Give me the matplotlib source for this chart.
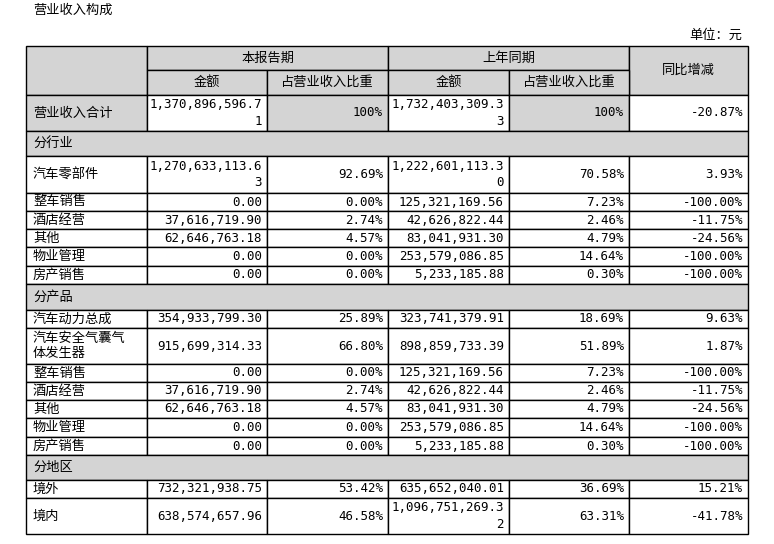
import matplotlib.pyplot as plt
from matplotlib.patches import Rectangle

plt.rcParams['font.family'] = ['Noto Sans CJK SC', 'DejaVu Sans']
MONO = ['DejaVu Sans Mono']

title = '营业收入构成'
unit = '单位：元'
header_top = ['本报告期', '上年同期', '同比增减']
header_sub = ['金额', '占营业收入比重', '金额', '占营业收入比重']

# (label, cur amount, cur pct, prev amount, prev pct, change); single item -> section row
rows = [
    ('营业收入合计', '1,370,896,596.71', '100%', '1,732,403,309.33', '100%', '-20.87%'),
    ('分行业',),
    ('汽车零部件', '1,270,633,113.63', '92.69%', '1,222,601,113.30', '70.58%', '3.93%'),
    ('整车销售', '0.00', '0.00%', '125,321,169.56', '7.23%', '-100.00%'),
    ('酒店经营', '37,616,719.90', '2.74%', '42,626,822.44', '2.46%', '-11.75%'),
    ('其他', '62,646,763.18', '4.57%', '83,041,931.30', '4.79%', '-24.56%'),
    ('物业管理', '0.00', '0.00%', '253,579,086.85', '14.64%', '-100.00%'),
    ('房产销售', '0.00', '0.00%', '5,233,185.88', '0.30%', '-100.00%'),
    ('分产品',),
    ('汽车动力总成', '354,933,799.30', '25.89%', '323,741,379.91', '18.69%', '9.63%'),
    ('汽车安全气囊气体发生器', '915,699,314.33', '66.80%', '898,859,733.39', '51.89%', '1.87%'),
    ('整车销售', '0.00', '0.00%', '125,321,169.56', '7.23%', '-100.00%'),
    ('酒店经营', '37,616,719.90', '2.74%', '42,626,822.44', '2.46%', '-11.75%'),
    ('其他', '62,646,763.18', '4.57%', '83,041,931.30', '4.79%', '-24.56%'),
    ('物业管理', '0.00', '0.00%', '253,579,086.85', '14.64%', '-100.00%'),
    ('房产销售', '0.00', '0.00%', '5,233,185.88', '0.30%', '-100.00%'),
    ('分地区',),
    ('境外', '732,321,938.75', '53.42%', '635,652,040.01', '36.69%', '15.21%'),
    ('境内', '638,574,657.96', '46.58%', '1,096,751,269.32', '63.31%', '-41.78%'),
]

GREY = '#d4d4d4'
cols = [26, 147, 267, 388, 509, 629, 748]
top, mid, hdr = 46, 70, 95
row_h = [36, 25, 37, 18, 18, 18, 19, 18, 26, 18, 36, 18, 18, 18, 19, 18, 25, 18, 36]


def wrap(s, n):
    return s if len(s) <= n else s[:n] + '\n' + s[n:]


fig = plt.figure(figsize=(7.74, 5.44), dpi=100)
ax = fig.add_axes([0, 0, 1, 1])
ax.set_xlim(0, 774)
ax.set_ylim(544, 0)
ax.axis('off')
fs = 9.5
nfs = 9


def cell(x0, y0, x1, y1, fill='white'):
    ax.add_patch(Rectangle((x0, y0), x1 - x0, y1 - y0, facecolor=fill,
                           edgecolor='black', linewidth=1.0))


ax.text(33, 10, title, fontsize=fs, va='center')
ax.text(742, 35, unit, fontsize=fs, va='center', ha='right')

# header
cell(cols[0], top, cols[1], hdr, GREY)
cell(cols[1], top, cols[3], mid, GREY)
cell(cols[3], top, cols[5], mid, GREY)
cell(cols[5], top, cols[6], hdr, GREY)
ax.text((cols[1] + cols[3]) / 2, (top + mid) / 2, header_top[0], ha='center', va='center', fontsize=fs)
ax.text((cols[3] + cols[5]) / 2, (top + mid) / 2, header_top[1], ha='center', va='center', fontsize=fs)
ax.text((cols[5] + cols[6]) / 2, (top + hdr) / 2, header_top[2], ha='center', va='center', fontsize=fs)
for i, h in enumerate(header_sub):
    cell(cols[i + 1], mid, cols[i + 2], hdr, GREY)
    ax.text((cols[i + 1] + cols[i + 2]) / 2, (mid + hdr) / 2, h, ha='center', va='center', fontsize=fs)

y = hdr
for r, h in zip(rows, row_h):
    yc = y + h / 2
    if len(r) == 1:
        cell(cols[0], y, cols[6], y + h, GREY)
        ax.text(cols[0] + 7, yc, r[0], va='center', fontsize=fs)
    else:
        total = r[0] == '营业收入合计'
        fills = [GREY if total else 'white', 'white', GREY if total else 'white',
                 'white', GREY if total else 'white', 'white']
        for j in range(6):
            cell(cols[j], y, cols[j + 1], y + h, fills[j])
        ax.text(cols[0] + 7, yc, wrap(r[0], 7), va='center', fontsize=fs, linespacing=1.2)
        for j in range(1, 6):
            txt = wrap(r[j], 15) if j in (1, 3) else r[j]
            ax.text(cols[j + 1] - 5, yc, txt, va='center', ha='right', fontsize=nfs,
                    family=MONO, linespacing=1.35, multialignment='right')
    y += h

fig.savefig('out.png', dpi=100)
